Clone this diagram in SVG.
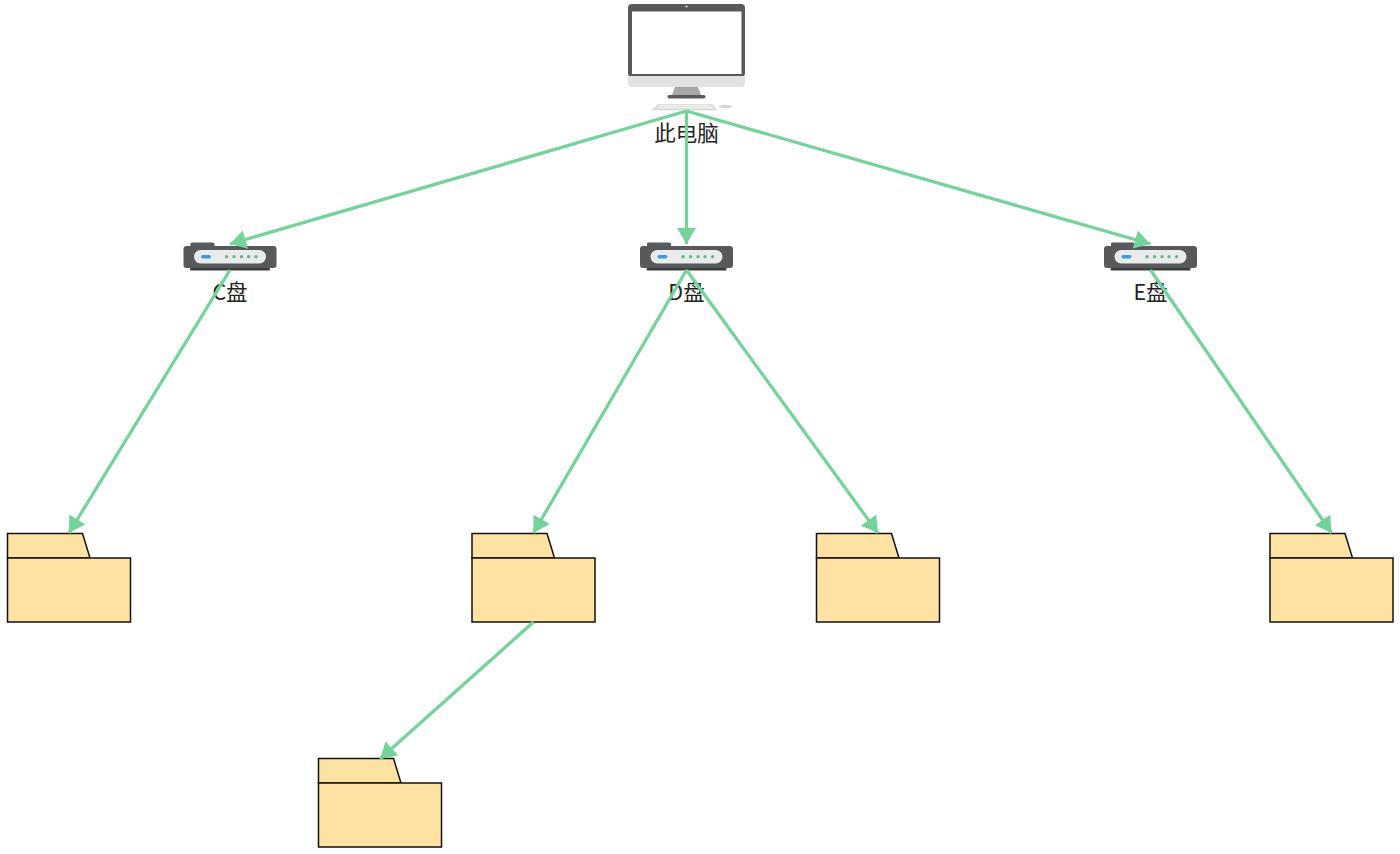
<svg xmlns="http://www.w3.org/2000/svg" width="1400" height="854" viewBox="0 0 1400 854">
<style>
.lbl{font-family:"Noto Sans CJK SC","Noto Sans",sans-serif;font-size:21.500px;fill:#222;text-anchor:middle}
.conn{stroke:#74d39a;stroke-width:3.300;fill:none;marker-end:url(#arr)}
.f{fill:#fde2a4;stroke:#111;stroke-width:1.500;stroke-linejoin:miter}
.dot{fill:#5fb58c}
</style>
<defs>
<marker id="arr" markerUnits="userSpaceOnUse" markerWidth="18" markerHeight="20" refX="16" refY="10" orient="auto">
<path d="M0 0.500L16 10L0 19.500Z" fill="#74d39a"/>
</marker>
<g id="drive">
<path d="M7 -0.500Q7 -1.500 9 -1.500L29 -1.500Q31 -1.500 31 0L31 2L90 2Q93 2 93 5L93 21Q93 24 90 24L3 24Q0 24 0 21L0 5Q0 2 3 2L7 2Z" fill="#58595b"/>
<rect x="6.500" y="24" width="80" height="2.500" rx="1" fill="#3d3d3d"/>
<rect x="10.500" y="6" width="72" height="13.500" rx="6.700" fill="#e9eaea"/>
<rect x="17.500" y="11" width="10" height="3.400" rx="1.700" fill="#3f9ae0"/>
<circle class="dot" cx="43" cy="12.700" r="1.600"/><circle class="dot" cx="50.500" cy="12.700" r="1.600"/><circle class="dot" cx="58" cy="12.700" r="1.600"/><circle class="dot" cx="65" cy="12.700" r="1.600"/><circle class="dot" cx="72.500" cy="12.700" r="1.600"/>
</g>
<g id="folder">
<path class="f" d="M0 24.500L0 0L75 0L82.500 24.500Z"/>
<rect class="f" x="0" y="24.500" width="123" height="64"/>
</g>
</defs>
<g id="pc">
<rect x="628" y="4" width="117" height="73" rx="4" fill="#58595b"/>
<path d="M628 76H745V83Q745 87 741 87H632Q628 87 628 83Z" fill="#e1e2e2"/>
<rect x="632" y="11.500" width="109.500" height="62.500" fill="#fff"/>
<circle cx="686.500" cy="6.500" r="1.100" fill="#ddd"/>
<path d="M675 87H698L701 95H672Z" fill="#a6a7a8"/>
<rect x="667.500" y="95" width="38" height="3.500" rx="1.700" fill="#58595b"/>
<path d="M658 104H712L718 110.500H651Z" fill="#dcdddd"/>
<path d="M660 105.500H710M658 107.500H712" stroke="#f7f7f7" stroke-width="1"/>
<ellipse cx="725.500" cy="106.500" rx="6.500" ry="1.800" fill="#d6d6d6"/>
<text class="lbl" x="686.500" y="141">此电脑</text>
</g>
<g id="c-drive"><use href="#drive" x="183.500" y="244"/><text class="lbl" x="230" y="300">C盘</text></g>
<g id="d-drive"><use href="#drive" x="640" y="244"/><text class="lbl" x="686.500" y="300">D盘</text></g>
<g id="e-drive"><use href="#drive" x="1104" y="244"/><text class="lbl" x="1150.500" y="300">E盘</text></g>
<g id="folder-c"><use href="#folder" x="7.500" y="533.500"/></g>
<g id="folder-d1"><use href="#folder" x="472" y="533.500"/></g>
<g id="folder-d2"><use href="#folder" x="816.500" y="533.500"/></g>
<g id="folder-e"><use href="#folder" x="1270" y="533.500"/></g>
<g id="folder-d3"><use href="#folder" x="318.500" y="758.500"/></g>
<g id="connectors">
<path class="conn" d="M686.500 111L230 244"/>
<path class="conn" d="M686.500 111V244"/>
<path class="conn" d="M686.500 111L1150.500 244"/>
<path class="conn" d="M230 270L69 533"/>
<path class="conn" d="M686.500 270L533.500 533"/>
<path class="conn" d="M686.500 270L878 533"/>
<path class="conn" d="M1150.500 270L1331.500 533"/>
<path class="conn" d="M533.500 622L380 759"/>
</g>
</svg>
